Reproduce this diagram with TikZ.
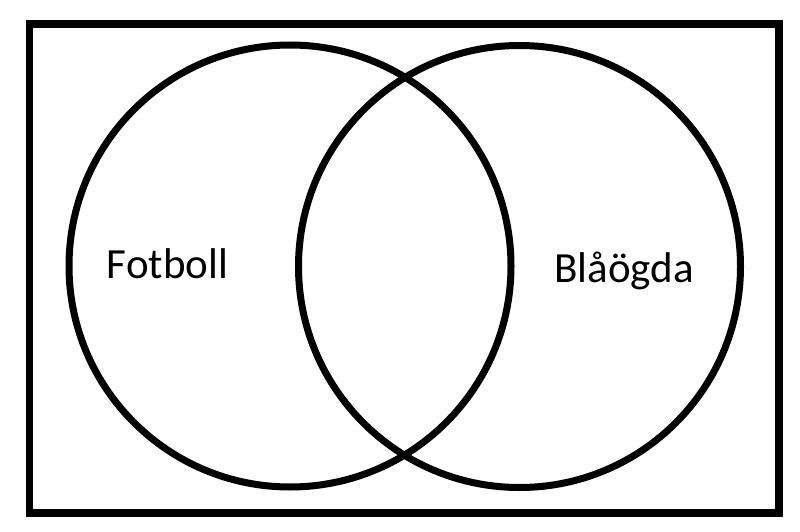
\documentclass[tikz,border=0pt]{standalone}
\usepackage{fontspec}
\setmainfont{Carlito}
\begin{document}
\begin{tikzpicture}[x=1pt,y=-1pt,
  frame/.style={draw=black,line width=7.5pt},
  setc/.style={draw=black,line width=7pt},
  lbl/.style={anchor=base,inner sep=0pt,font=\fontsize{43}{51}\selectfont}]
\useasboundingbox (0,0) rectangle (800,532);
\draw[frame] (29.5,24) rectangle (779,513);
\node[setc,circle,minimum size=442pt,inner sep=0pt] (A) at (290,266) {};
\node[setc,circle,minimum size=442pt,inner sep=0pt] (B) at (519.5,266.5) {};
\node[lbl] (la) at (167.5,278.5) {Fotboll};
\node[lbl] (lb) at (624,282.5) {Blåögda};
\end{tikzpicture}
\end{document}
